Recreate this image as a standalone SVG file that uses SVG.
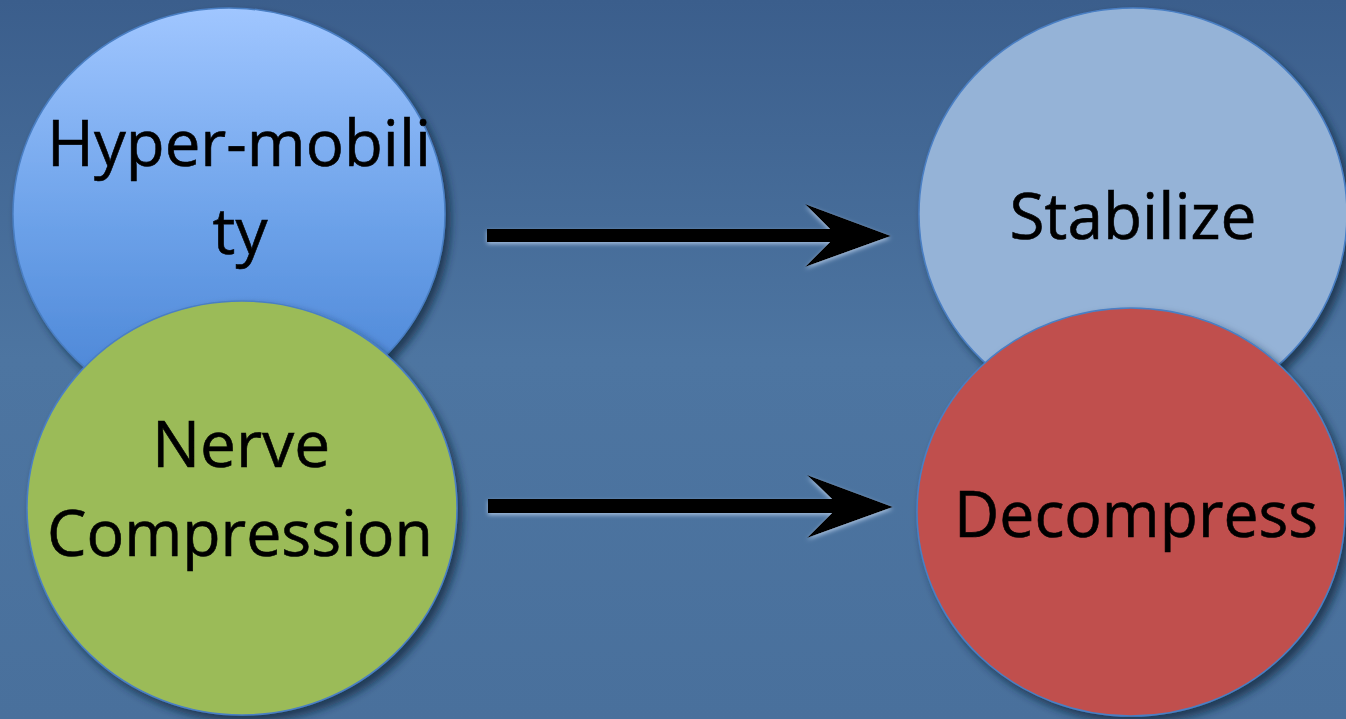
<svg xmlns="http://www.w3.org/2000/svg" width="1346" height="719" viewBox="0 0 1346 719">
<defs>
<linearGradient id="bg" x1="0" y1="0" x2="0" y2="1">
<stop offset="0" stop-color="#3b5e8c"/>
<stop offset="0.5" stop-color="#4d75a1"/>
<stop offset="1" stop-color="#49709c"/>
</linearGradient>
<linearGradient id="blueGrad" x1="0" y1="0" x2="0" y2="1">
<stop offset="0" stop-color="#a0c6ff"/>
<stop offset="0.5" stop-color="#6ea3ea"/>
<stop offset="1" stop-color="#4581d3"/>
</linearGradient>
<filter id="shadow" x="-10%" y="-10%" width="125%" height="125%">
<feDropShadow dx="5" dy="6" stdDeviation="4" flood-color="#17263d" flood-opacity="0.75"/>
</filter>
<filter id="glow" x="-5%" y="-30%" width="110%" height="160%">
<feDropShadow dx="0" dy="2" stdDeviation="2" flood-color="#c8dcf5" flood-opacity="0.7"/>
</filter>
<style>
.node{stroke:#4a7fc4;stroke-width:1.5;filter:url(#shadow);}
.lbl{font-family:"Open Sans","Liberation Sans",sans-serif;font-size:64px;fill:#000;stroke:#000;stroke-width:0.6;text-anchor:middle;}
.arrow{fill:#000;filter:url(#glow);}
</style>
</defs>
<rect x="0" y="0" width="1346" height="719" fill="url(#bg)"/>
<g id="hypermobility">
<ellipse class="node" cx="229" cy="214" rx="216" ry="206" fill="url(#blueGrad)"/>
<text class="lbl" x="239" y="166" textLength="384" lengthAdjust="spacingAndGlyphs">Hyper-mobili</text>
<text class="lbl" x="240" y="254">ty</text>
</g>
<g id="nerve-compression">
<ellipse class="node" cx="242" cy="508" rx="215" ry="207" fill="#9bbb59"/>
<text class="lbl" x="241" y="467">Nerve</text>
<text class="lbl" x="240" y="556" textLength="386" lengthAdjust="spacingAndGlyphs">Compression</text>
</g>
<g id="stabilize">
<ellipse class="node" cx="1133" cy="214" rx="214" ry="206" fill="#95b3d7"/>
<text class="lbl" x="1133" y="239">Stabilize</text>
</g>
<g id="decompress">
<ellipse class="node" cx="1131" cy="512" rx="214" ry="204" fill="#c0504d"/>
<text class="lbl" x="1136" y="537" textLength="364" lengthAdjust="spacingAndGlyphs">Decompress</text>
</g>
<g id="connectors">
<polygon class="arrow" points="487,229 830,229 805,204 891,236 805,267 830,242 487,242"/>
<polygon class="arrow" points="488,499 832,499 807,475 893,507 807,538 832,513 488,513"/>
</g>
</svg>
